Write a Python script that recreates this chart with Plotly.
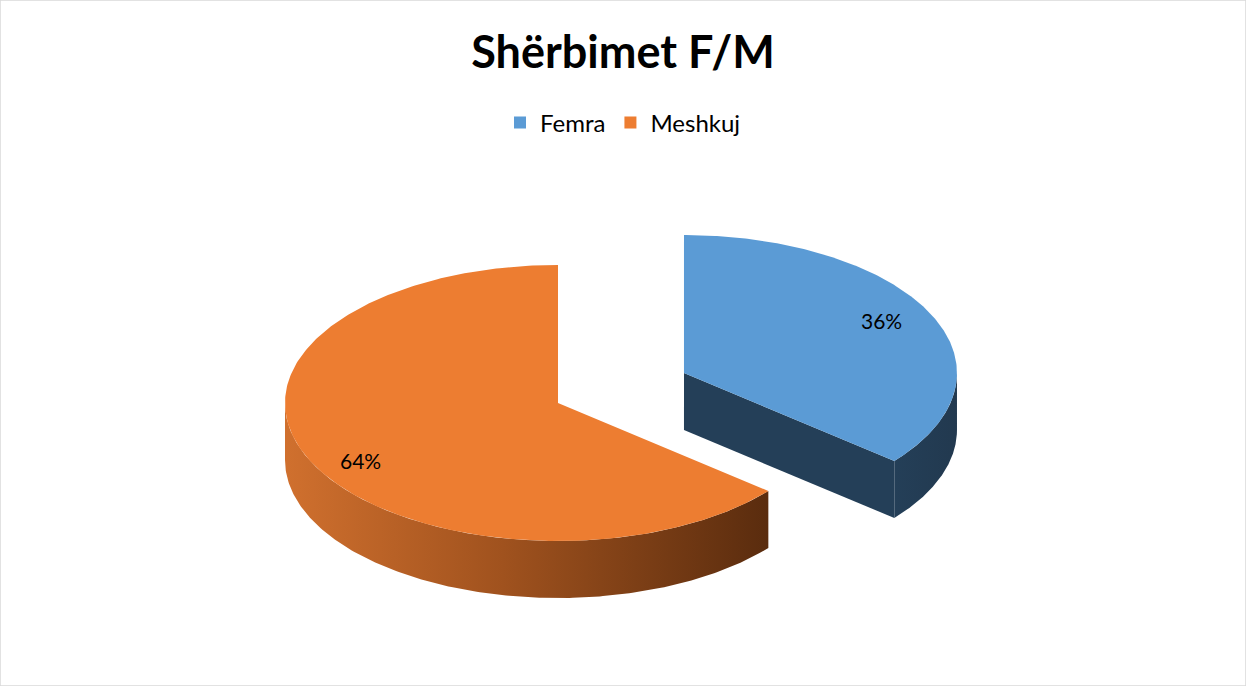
import numpy as np
import plotly.graph_objects as go

# ---- data ----
categories = ["Femra", "Meshkuj"]
values = [36, 64]
top_colors = ["#5B9BD5", "#ED7D31"]
title_text = "Shërbimet F/M"

# ---- 3D pie projection settings (style / position) ----
W, H = 1246, 686
CX, CY = 558, 403          # centre of the un-pulled pie (top face)
RX, RY = 273, 138          # ellipse radii of top face
DEPTH = 57                 # thickness
PULL = [0.51, 0.0]         # explode fraction per slice
FONT = "Lato, Carlito, Calibri, sans-serif"

total = sum(values)
fracs = [v / total for v in values]
starts = np.cumsum([0] + fracs[:-1]) * 2 * np.pi
ends = starts + np.array(fracs) * 2 * np.pi


def proj(cx, cy, t, r=1.0, dz=0.0):
    # t measured clockwise from 12 o'clock
    return cx + r * RX * np.sin(t), cy - r * RY * np.cos(t) + dz


fig = go.Figure()

side_grad = [
    dict(type="horizontal", colorscale=[[0, "#243F58"], [1, "#22394F"]]),
    dict(type="horizontal", colorscale=[[0, "#D0702E"], [0.45, "#A0521E"], [1, "#5A2C0E"]]),
]
side_plain = ["#243F58", "#8A4519"]

for i, cat in enumerate(categories):
    a, b = starts[i], ends[i]
    mid = (a + b) / 2
    cx = CX + PULL[i] * RX * np.sin(mid)
    cy = CY - PULL[i] * RY * np.cos(mid)

    # cut faces (visible if facing viewer)
    for edge, normal in ((a, a - np.pi / 2), (b, b + np.pi / 2)):
        if PULL[i] > 0 and np.cos(normal) < 0:
            ex, ey = proj(cx, cy, edge)
            fig.add_trace(go.Scatter(
                x=[cx, ex, ex, cx, cx], y=[cy, ey, ey + DEPTH, cy + DEPTH, cy],
                mode="lines", fill="toself", fillcolor=side_plain[i],
                line=dict(width=0), hoverinfo="skip", showlegend=False))

    # outer curved side: visible for angles in [pi/2, 3pi/2]
    lo, hi = max(a, np.pi / 2), min(b, 3 * np.pi / 2)
    if hi > lo:
        t = np.linspace(lo, hi, 200)
        xt, yt = proj(cx, cy, t)
        xs = np.concatenate([xt, xt[::-1]])
        ys = np.concatenate([yt, (yt + DEPTH)[::-1]])
        fig.add_trace(go.Scatter(
            x=xs, y=ys, mode="lines", fill="toself",
            fillgradient=side_grad[i],
            line=dict(width=0), hoverinfo="skip", showlegend=False))

    # top face
    t = np.linspace(a, b, 300)
    xt, yt = proj(cx, cy, t)
    fig.add_trace(go.Scatter(
        x=np.concatenate([[cx], xt, [cx]]), y=np.concatenate([[cy], yt, [cy]]),
        mode="lines", fill="toself", fillcolor=top_colors[i],
        line=dict(width=0), hoverinfo="skip", showlegend=False))

    # percentage label
    lx, ly = proj(cx, cy, mid, r=0.8)
    fig.add_annotation(x=lx, y=ly + (10 if i == 1 else -6), text=f"{round(fracs[i] * 100)}%",
                       showarrow=False, font=dict(family=FONT, size=21, color="#000000"))

# legend entries
for i, cat in enumerate(categories):
    fig.add_trace(go.Scatter(
        x=[None], y=[None], mode="markers", name=cat,
        marker=dict(symbol="square", size=17, color=top_colors[i])))

fig.update_layout(
    width=W, height=H,
    margin=dict(l=0, r=0, t=0, b=0),
    paper_bgcolor="white", plot_bgcolor="white",
    title=dict(text=f"<b>{title_text}</b>", x=0.5, xanchor="center",
               y=1 - 52 / H, yanchor="middle",
               font=dict(family=FONT, size=45, color="#000000")),
    legend=dict(orientation="h", x=0.5, xanchor="center", y=1 - 123 / H, yanchor="middle",
                font=dict(family=FONT, size=24, color="#000000"),
                itemsizing="constant", itemwidth=30, bgcolor="rgba(0,0,0,0)"),
    xaxis=dict(range=[0, W], visible=False, fixedrange=True),
    yaxis=dict(range=[H, 0], visible=False, fixedrange=True),
    shapes=[dict(type="rect", xref="paper", yref="paper", x0=0, y0=0, x1=1, y1=1,
                 line=dict(color="#D9D9D9", width=1.5))],
)

fig.write_html("out.html", config={"displayModeBar": False},
               post_script="document.body.style.margin='0';")
